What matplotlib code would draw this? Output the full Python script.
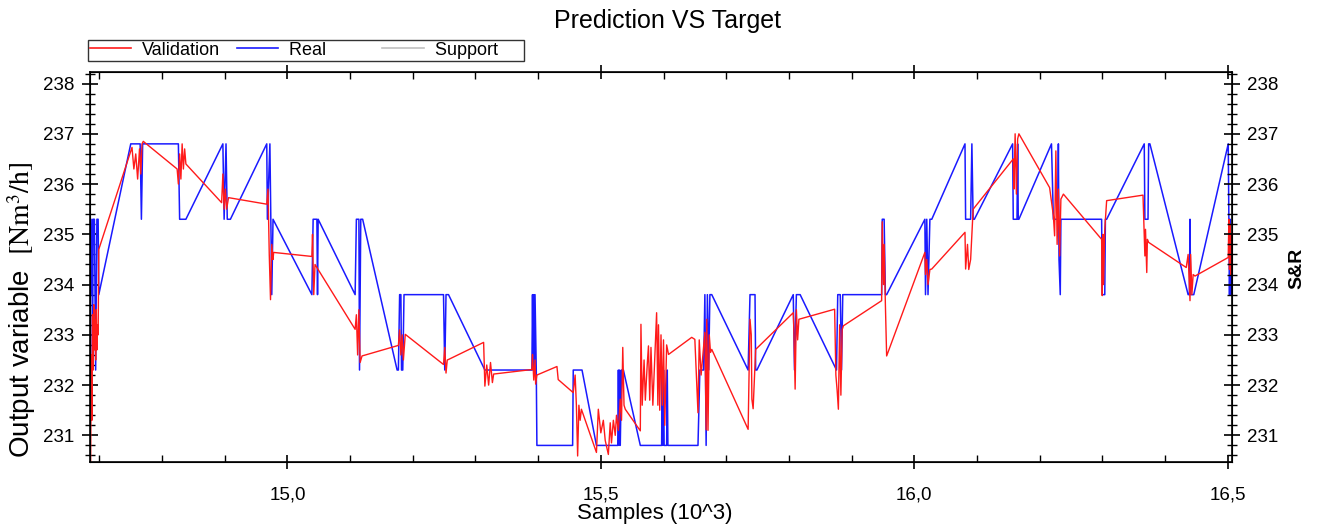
import matplotlib
matplotlib.use("Agg")
import matplotlib.pyplot as plt
from matplotlib.ticker import MultipleLocator, FuncFormatter
from matplotlib.lines import Line2D

# ---------------- data ----------------
real_x = [14.686, 14.688, 14.689, 14.690, 14.692, 14.694, 14.696, 14.698, 14.699,
          14.750, 14.765, 14.767, 14.769, 14.826, 14.828, 14.838, 14.897, 14.899,
          14.902, 14.904, 14.909, 14.967, 14.968, 14.972, 14.975, 14.977, 15.039,
          15.041, 15.047, 15.048, 15.049, 15.108, 15.110, 15.114, 15.115, 15.117,
          15.120, 15.175, 15.177, 15.179, 15.181, 15.182, 15.184, 15.186, 15.249,
          15.251, 15.253, 15.257, 15.315, 15.390, 15.391, 15.392, 15.393, 15.394,
          15.395, 15.397, 15.398, 15.455, 15.456, 15.470, 15.493, 15.527, 15.528,
          15.529, 15.530, 15.531, 15.533, 15.536, 15.563, 15.597, 15.598, 15.599,
          15.600, 15.601, 15.605, 15.606, 15.607, 15.655, 15.658, 15.660, 15.664,
          15.666, 15.668, 15.670, 15.672, 15.674, 15.677, 15.735, 15.738, 15.746,
          15.747, 15.749, 15.807, 15.809, 15.812, 15.818, 15.876, 15.878, 15.882,
          15.884, 15.886, 15.948, 15.949, 15.952, 15.954, 15.956, 16.017, 16.018,
          16.020, 16.022, 16.025, 16.028, 16.081, 16.082, 16.090, 16.092, 16.094,
          16.096, 16.157, 16.158, 16.164, 16.165, 16.166, 16.167, 16.219, 16.222,
          16.229, 16.230, 16.231, 16.233, 16.234, 16.299, 16.300, 16.304, 16.305,
          16.307, 16.367, 16.368, 16.373, 16.374, 16.376, 16.437, 16.439, 16.440,
          16.441, 16.446, 16.501, 16.503, 16.504, 16.505, 16.506]
real_y = [233.8, 235.3, 232.3, 235.3, 235.3, 232.3, 235.3, 235.3, 233.8,
          236.8, 236.8, 235.3, 236.8, 236.8, 235.3, 235.3, 236.8, 235.3,
          236.8, 235.3, 235.3, 236.8, 235.3, 236.8, 233.8, 235.3, 233.8,
          235.3, 235.3, 233.8, 235.3, 233.8, 235.3, 235.3, 232.3, 235.3,
          235.3, 232.3, 232.3, 233.8, 233.8, 232.3, 232.3, 233.8, 233.8,
          232.3, 233.8, 233.8, 232.3, 232.3, 233.8, 232.3, 233.8, 232.3,
          233.8, 232.3, 230.8, 230.8, 232.3, 232.3, 230.8, 230.8, 232.3,
          230.8, 232.3, 230.8, 232.3, 232.3, 230.8, 230.8, 232.3, 230.8,
          232.3, 230.8, 230.8, 232.3, 230.8, 230.8, 232.3, 232.3, 232.3,
          233.8, 230.8, 233.8, 232.3, 233.8, 233.8, 232.3, 233.8, 233.8,
          232.3, 232.3, 233.8, 232.3, 233.8, 233.8, 232.3, 233.8, 233.8,
          232.3, 233.8, 233.8, 235.3, 235.3, 233.8, 233.8, 235.3, 233.8,
          235.3, 233.8, 235.3, 235.3, 236.8, 235.3, 235.3, 236.8, 235.3,
          235.3, 236.8, 235.3, 235.3, 236.8, 235.3, 235.3, 236.8, 235.3,
          235.3, 236.8, 234.5, 233.8, 235.3, 235.3, 233.8, 233.8, 235.3,
          235.3, 236.8, 235.3, 235.3, 236.8, 236.8, 233.8, 233.8, 235.3,
          233.8, 233.8, 236.8, 233.8, 235.3, 233.8, 235.0]

validation_x = [14.686, 14.687, 14.688, 14.689, 14.690, 14.691, 14.692, 14.693, 14.694,
                14.695, 14.696, 14.697, 14.698, 14.699, 14.752, 14.755, 14.758, 14.761,
                14.764, 14.766, 14.768, 14.770, 14.824, 14.826, 14.828, 14.830, 14.832,
                14.834, 14.836, 14.838, 14.895, 14.897, 14.899, 14.901, 14.903, 14.906,
                14.967, 14.969, 14.971, 14.973, 14.975, 14.977, 14.978, 15.039, 15.040,
                15.042, 15.044, 15.108, 15.110, 15.112, 15.114, 15.116, 15.119, 15.177,
                15.179, 15.181, 15.183, 15.185, 15.188, 15.249, 15.251, 15.253, 15.255,
                15.257, 15.313, 15.315, 15.318, 15.321, 15.324, 15.327, 15.329, 15.390,
                15.391, 15.393, 15.395, 15.396, 15.398, 15.430, 15.432, 15.456, 15.459,
                15.461, 15.463, 15.465, 15.467, 15.469, 15.493, 15.496, 15.500, 15.504,
                15.507, 15.512, 15.515, 15.517, 15.520, 15.523, 15.525, 15.528, 15.531,
                15.533, 15.535, 15.537, 15.539, 15.563, 15.564, 15.566, 15.569, 15.571,
                15.574, 15.576, 15.578, 15.580, 15.583, 15.589, 15.591, 15.592, 15.594,
                15.596, 15.598, 15.600, 15.602, 15.605, 15.608, 15.645, 15.650, 15.655,
                15.657, 15.660, 15.666, 15.668, 15.669, 15.671, 15.673, 15.675, 15.677,
                15.735, 15.738, 15.740, 15.741, 15.743, 15.747, 15.807, 15.808, 15.810,
                15.812, 15.814, 15.816, 15.873, 15.875, 15.877, 15.879, 15.881, 15.883,
                15.885, 15.887, 15.948, 15.949, 15.951, 15.952, 15.954, 15.956, 16.017,
                16.018, 16.020, 16.022, 16.025, 16.028, 16.081, 16.082, 16.085, 16.087,
                16.090, 16.092, 16.094, 16.158, 16.159, 16.161, 16.163, 16.165, 16.167,
                16.216, 16.222, 16.224, 16.226, 16.228, 16.230, 16.232, 16.234, 16.238,
                16.299, 16.300, 16.301, 16.302, 16.304, 16.307, 16.365, 16.368, 16.369,
                16.371, 16.372, 16.374, 16.434, 16.437, 16.440, 16.441, 16.443, 16.445,
                16.448, 16.501, 16.502, 16.503, 16.504, 16.505, 16.506]
validation_y = [230.5, 232.6, 231.3, 233.4, 232.3, 233.6, 232.7, 233.3, 232.5,
                233.5, 232.7, 233.2, 233.0, 234.7, 236.73, 236.3, 236.6, 236.1,
                236.7, 236.2, 236.8, 236.85, 236.3, 236.0, 236.6, 236.1, 236.8,
                236.3, 236.7, 236.4, 235.63, 236.2, 235.5, 235.9, 235.5, 235.73,
                235.6, 235.9, 234.6, 233.7, 234.8, 234.5, 234.64, 234.56, 235.0,
                233.8, 234.4, 233.11, 233.4, 232.6, 233.5, 232.45, 232.58, 232.79,
                233.1, 232.6, 233.0, 232.5, 233.01, 232.41, 232.75, 232.24, 232.5,
                232.51, 232.85, 231.98, 232.4, 232.0, 232.45, 232.05, 232.22, 232.31,
                232.61, 232.1, 232.5, 232.02, 232.2, 232.37, 232.11, 231.85, 232.2,
                231.6, 230.59, 231.6, 231.3, 231.52, 230.66, 231.52, 231.05, 231.3,
                230.9, 230.62, 231.25, 230.85, 231.3, 231.0, 231.4, 231.1, 231.72,
                231.3, 232.75, 231.6, 231.52, 231.09, 233.21, 231.6, 232.5, 231.7,
                232.4, 232.78, 231.7, 232.75, 231.6, 233.44, 231.6, 233.2, 231.5,
                233.0, 231.6, 232.9, 231.2, 232.8, 232.61, 232.95, 232.91, 231.45,
                232.9, 232.2, 233.05, 231.11, 233.31, 231.1, 233.0, 232.65, 232.71,
                231.12, 233.31, 233.0, 231.72, 231.53, 232.71, 233.44, 233.1, 231.92,
                233.5, 232.9, 233.31, 233.51, 232.2, 231.9, 231.52, 233.2, 231.8,
                233.1, 233.18, 233.68, 235.25, 234.0, 234.8, 233.6, 232.58, 234.64,
                234.2, 234.5, 234.0, 234.3, 234.31, 235.04, 234.31, 234.8, 234.3,
                234.5, 235.0, 235.5, 236.5, 235.9, 237.0, 235.8, 236.9, 237.0,
                235.93, 235.37, 234.97, 236.66, 234.8, 235.9, 234.57, 235.7, 235.8,
                234.9, 233.78, 235.0, 234.0, 235.1, 235.67, 235.78, 234.57, 235.1,
                234.24, 234.9, 234.84, 234.34, 234.6, 233.68, 234.6, 233.8, 234.2,
                234.17, 234.54, 235.3, 234.3, 235.2, 234.2, 235.0]

support_x = []
support_y = []

y_ticks = [231, 232, 233, 234, 235, 236, 237, 238]
x_ticks = [15.0, 15.5, 16.0, 16.5]

# ---------------- style ----------------
plt.rcParams["font.family"] = ["Liberation Sans", "DejaVu Sans"]
plt.rcParams["mathtext.fontset"] = "stix"

W, H = 1317, 526
fig = plt.figure(figsize=(W / 100, H / 100), dpi=100)
ax = fig.add_axes([90 / W, 1 - 462 / H, (1232 - 90) / W, (462 - 72) / H])

ax.plot(support_x, support_y, color="#c0c0c0", lw=1.0, label="Support")
ax.plot(real_x, real_y, color="#1a1aff", lw=1.1, label="Real")
ax.plot(validation_x, validation_y, color="#ff1a1a", lw=1.0, label="Validation")

ax.set_xlim(14.685, 16.507)
ax.set_ylim(230.47, 238.23)

fmt = FuncFormatter(lambda v, p: f"{v:.1f}".replace(".", ","))
ax.set_xticks(x_ticks)
ax.xaxis.set_major_formatter(fmt)
ax.xaxis.set_minor_locator(MultipleLocator(0.1))
ax.set_yticks(y_ticks)
ax.yaxis.set_minor_locator(MultipleLocator(0.2))

tick_fs = 13.5
ax.tick_params(axis="x", which="major", direction="inout", length=10, width=1.2,
               labelsize=tick_fs, pad=13, top=True)
ax.tick_params(axis="x", which="minor", direction="in", length=5, width=1.0, top=True)
ax.tick_params(axis="y", which="major", direction="inout", length=12, width=1.2,
               labelsize=tick_fs, pad=5, right=False)
ax.tick_params(axis="y", which="minor", direction="inout", length=7, width=1.0, right=False)
for s in ax.spines.values():
    s.set_linewidth(1.2)

ax2 = ax.twinx()
ax2.set_ylim(ax.get_ylim())
ax2.set_yticks(y_ticks)
ax2.yaxis.set_minor_locator(MultipleLocator(0.2))
ax2.tick_params(axis="y", which="major", direction="inout", length=12, width=1.2,
                labelsize=tick_fs, pad=5)
ax2.tick_params(axis="y", which="minor", direction="inout", length=7, width=1.0)

fig.text(668 / W, 1 - 21 / H, "Prediction VS Target", ha="center", va="center", fontsize=18)
fig.text(655 / W, 1 - 514 / H, "Samples (10^3)", ha="center", va="center", fontsize=16)
fig.text(22 / W, 1 - 310 / H, r"Output variable  $[\mathrm{Nm}^3/\mathrm{h}]$", rotation=90,
         ha="center", va="center", fontsize=20)
fig.text(1297 / W, 1 - 268 / H, "S&R", rotation=90, ha="center", va="center",
         fontsize=14, fontweight="bold")

handles = [Line2D([], [], color="#ff1a1a", lw=1.2),
           Line2D([], [], color="#1a1aff", lw=1.2),
           Line2D([], [], color="#c0c0c0", lw=1.2)]
labels = ["Validation", "Real        ", "Support     "]
leg = fig.legend(handles, labels, ncol=3, loc="upper left",
                 bbox_to_anchor=(88 / W, 1 - 40 / H), frameon=True, fancybox=False,
                 edgecolor="black", fontsize=13, handlelength=2.3, handletextpad=0.6,
                 columnspacing=0.9, borderpad=0.1, borderaxespad=0)
leg.get_frame().set_linewidth(1.0)

fig.savefig("out.png", dpi=100)
